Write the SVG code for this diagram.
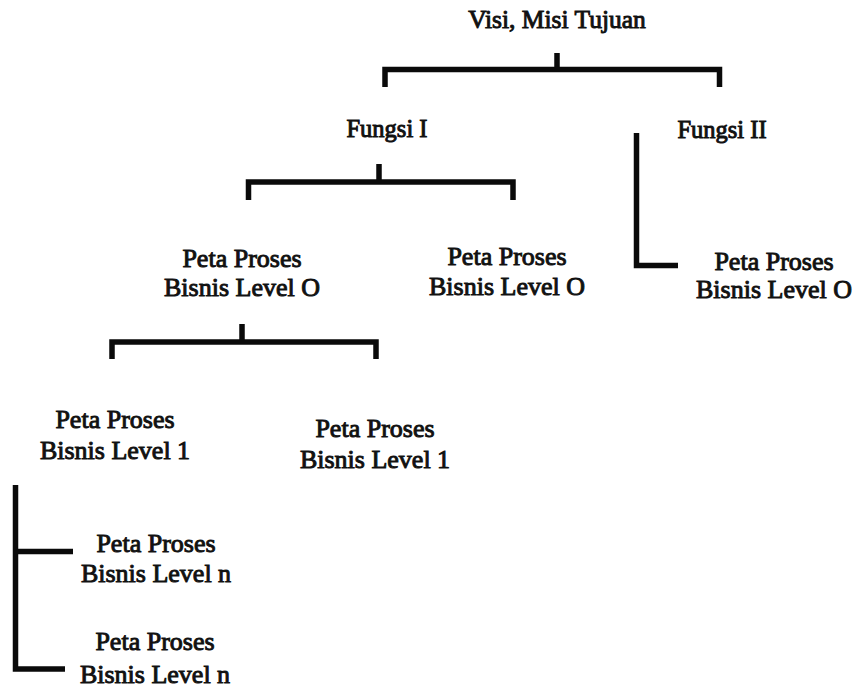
<svg xmlns="http://www.w3.org/2000/svg" width="854" height="688" viewBox="0 0 854 688">
<style>
text{font-family:"Liberation Serif","Times New Roman",serif;font-weight:normal;font-size:26px;fill:#111;stroke:#111;stroke-width:0.95;text-anchor:middle}
.c{fill:none;stroke:#0a0a0a;stroke-width:5.5;stroke-linejoin:miter}
</style>
<rect width="854" height="688" fill="#fff"/>
<g id="connectors">
<path class="c" d="M385,87 V69.5 H719.5 V87 M557,53 V69.5"/>
<path class="c" d="M248.5,200 V182 H513 V200 M379,164 V182"/>
<path class="c" d="M112,359 V342 H376 V359 M242,324 V342"/>
<path class="c" d="M636.5,133 V265.5 H678"/>
<path class="c" d="M15.5,485 V669 H65 M15.5,551.5 H73"/>
</g>
<g id="visi"><text x="557" y="28" style="font-size:25.5px">Visi, Misi Tujuan</text></g>
<g id="fungsi1"><text x="387" y="137" style="font-size:24.5px">Fungsi I</text></g>
<g id="fungsi2"><text x="722" y="138" style="font-size:24.5px">Fungsi II</text></g>
<g id="p0a"><text x="242" y="267">Peta Proses</text><text x="242" y="296">Bisnis Level O</text></g>
<g id="p0b"><text x="507" y="265">Peta Proses</text><text x="507" y="295">Bisnis Level O</text></g>
<g id="p0c"><text x="774" y="270">Peta Proses</text><text x="774" y="298">Bisnis Level O</text></g>
<g id="p1a"><text x="115" y="428">Peta Proses</text><text x="115" y="459">Bisnis Level 1</text></g>
<g id="p1b"><text x="375" y="437">Peta Proses</text><text x="375" y="468">Bisnis Level 1</text></g>
<g id="pna"><text x="156" y="552">Peta Proses</text><text x="156" y="582">Bisnis Level n</text></g>
<g id="pnb"><text x="155" y="650">Peta Proses</text><text x="155" y="683">Bisnis Level n</text></g>
</svg>
